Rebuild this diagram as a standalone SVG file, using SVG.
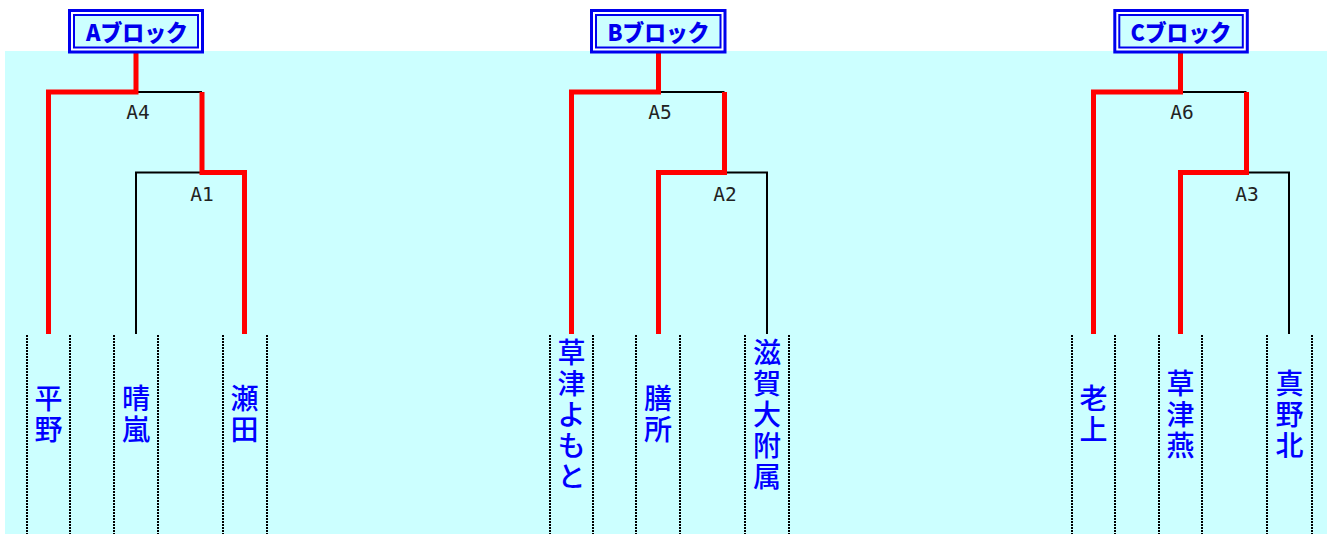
<svg xmlns="http://www.w3.org/2000/svg" width="1329" height="534" viewBox="0 0 1329 534">
<style>
.bg{fill:#CCFFFF}
.hdr-out{fill:#FFFFFF;stroke:#0000EE;stroke-width:3}
.hdr-in{fill:#CCFFFF;stroke:#0000EE;stroke-width:2}
.hdr-t{font-family:"Noto Sans CJK JP","Noto Sans",sans-serif;font-weight:900;font-size:23px;fill:#0000EE;text-anchor:middle}
.lbl{font-family:"DejaVu Sans Mono","Liberation Mono",monospace;font-size:19.5px;fill:#222222;text-anchor:middle}
.name{font-family:"Noto Sans CJK JP",sans-serif;font-weight:500;font-size:28px;fill:#0000FF;text-anchor:middle}
.dot{stroke:#000;stroke-width:2;stroke-dasharray:2 1;fill:none}
.blk{stroke:#000;stroke-width:2;fill:none}
.red{stroke:#FF0000;stroke-width:5;fill:none;stroke-linejoin:miter}
</style>
<rect class="bg" x="5" y="51" width="1322" height="483"/>

<g id="connectors">
  <!-- A block -->
  <path class="blk" d="M136,92 H202 M136,334 V172.5 H202"/>
  <path class="red" d="M48.5,334 V92 H136 V53"/>
  <path class="red" d="M202,92 V172.5 H244.5 V334"/>
  <!-- B block -->
  <path class="blk" d="M658.5,92 H724.5 M767,334 V172.5 H724.5"/>
  <path class="red" d="M571.5,334 V92 H658.5 V53"/>
  <path class="red" d="M724.5,92 V172.5 H658.5 V334"/>
  <!-- C block -->
  <path class="blk" d="M1180.5,92 H1246.5 M1289,334 V172.5 H1246.5"/>
  <path class="red" d="M1093.5,334 V92 H1180.5 V53"/>
  <path class="red" d="M1246.5,92 V172.5 H1180.5 V334"/>
</g>

<g id="dotted-columns">
  <path class="dot" d="M27,335 V534 M70,335 V534 M114,335 V534 M158,335 V534 M223,335 V534 M267,335 V534"/>
  <path class="dot" d="M550,335 V534 M593,335 V534 M636,335 V534 M680,335 V534 M745,335 V534 M789,335 V534"/>
  <path class="dot" d="M1072,335 V534 M1115,335 V534 M1159,335 V534 M1202,335 V534 M1267,335 V534 M1312,335 V534"/>
</g>

<g id="block-A">
  <rect class="hdr-out" x="69.5" y="10.5" width="133" height="41.5"/>
  <rect class="hdr-in" x="74" y="15" width="124" height="32.5"/>
  <text class="hdr-t" x="137" y="41" textLength="102" lengthAdjust="spacingAndGlyphs">Aブロック</text>
</g>
<g id="block-B">
  <rect class="hdr-out" x="591.5" y="10.5" width="133.5" height="41.5"/>
  <rect class="hdr-in" x="596" y="15" width="124.5" height="32.5"/>
  <text class="hdr-t" x="658.5" y="41" textLength="102" lengthAdjust="spacingAndGlyphs">Bブロック</text>
</g>
<g id="block-C">
  <rect class="hdr-out" x="1114.8" y="10.5" width="132.5" height="41.5"/>
  <rect class="hdr-in" x="1119.3" y="15" width="123.5" height="32.5"/>
  <text class="hdr-t" x="1181" y="41" textLength="101" lengthAdjust="spacingAndGlyphs">Cブロック</text>
</g>

<g id="match-A4"><text class="lbl" x="138" y="119">A4</text></g>
<g id="match-A1"><text class="lbl" x="202" y="201">A1</text></g>
<g id="match-A5"><text class="lbl" x="660" y="119">A5</text></g>
<g id="match-A2"><text class="lbl" x="725" y="201">A2</text></g>
<g id="match-A6"><text class="lbl" x="1182" y="119">A6</text></g>
<g id="match-A3"><text class="lbl" x="1247" y="201">A3</text></g>

<g id="team-hirano"><text class="name"><tspan x="48.5" y="409">平</tspan><tspan x="48.5" y="440">野</tspan></text></g>
<g id="team-seiran"><text class="name"><tspan x="136" y="409">晴</tspan><tspan x="136" y="440">嵐</tspan></text></g>
<g id="team-seta"><text class="name"><tspan x="244.5" y="409">瀬</tspan><tspan x="244.5" y="440">田</tspan></text></g>

<g id="team-kusatsu-yomoto"><text class="name"><tspan x="571.5" y="362.5">草</tspan><tspan x="571.5" y="393.5">津</tspan><tspan x="571.5" y="424.5">よ</tspan><tspan x="571.5" y="455.5">も</tspan><tspan x="571.5" y="486.5">と</tspan></text></g>
<g id="team-zeze"><text class="name"><tspan x="658" y="409">膳</tspan><tspan x="658" y="440">所</tspan></text></g>
<g id="team-shigadai"><text class="name"><tspan x="767" y="362.5">滋</tspan><tspan x="767" y="393.5">賀</tspan><tspan x="767" y="424.5">大</tspan><tspan x="767" y="455.5">附</tspan><tspan x="767" y="486.5">属</tspan></text></g>

<g id="team-oiso"><text class="name"><tspan x="1093.5" y="409">老</tspan><tspan x="1093.5" y="440">上</tspan></text></g>
<g id="team-kusatsu-en"><text class="name"><tspan x="1180.5" y="393.5">草</tspan><tspan x="1180.5" y="424.5">津</tspan><tspan x="1180.5" y="455.5">燕</tspan></text></g>
<g id="team-manokita"><text class="name"><tspan x="1289.5" y="393.5">真</tspan><tspan x="1289.5" y="424.5">野</tspan><tspan x="1289.5" y="455.5">北</tspan></text></g>
</svg>
